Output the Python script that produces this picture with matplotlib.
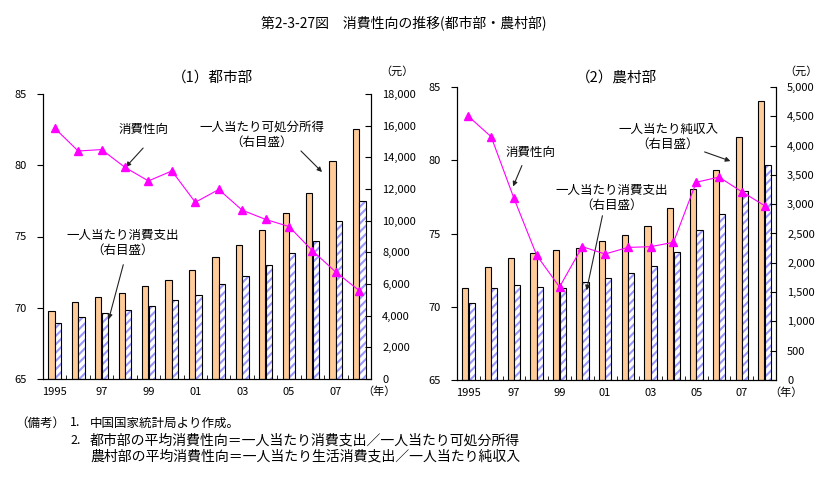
import numpy as np
import matplotlib
matplotlib.use('Agg')
import matplotlib.pyplot as plt
from matplotlib.ticker import FuncFormatter

plt.rcParams['font.family'] = ['Noto Sans CJK JP', 'DejaVu Sans']
plt.rcParams['hatch.linewidth'] = 1.5

# データ
years = list(range(1995, 2009))
year_ticks = [0, 2, 4, 6, 8, 10, 12]
year_labels = ['1995', '97', '99', '01', '03', '05', '07']

# 都市部：一人当たり可処分所得・消費支出（元）、消費性向（％）
urban_income = [4283, 4839, 5160, 5425, 5854, 6280, 6860, 7703, 8472, 9422, 10493, 11759, 13786, 15781]
urban_spend = [3538, 3919, 4186, 4332, 4616, 4998, 5309, 6030, 6511, 7182, 7943, 8697, 9997, 11243]
urban_apc = [82.6, 81.0, 81.1, 79.85, 78.9, 79.6, 77.4, 78.3, 76.85, 76.2, 75.7, 74.0, 72.5, 71.2]

# 農村部：一人当たり純収入・生活消費支出（元）、消費性向（％）
rural_income = [1578, 1926, 2090, 2162, 2210, 2253, 2366, 2476, 2622, 2936, 3255, 3587, 4140, 4761]
rural_spend = [1310, 1572, 1617, 1590, 1577, 1670, 1741, 1834, 1943, 2185, 2555, 2829, 3224, 3661]
rural_apc = [83.0, 81.6, 77.4, 73.5, 71.35, 74.1, 73.6, 74.05, 74.1, 74.4, 78.5, 78.85, 77.85, 76.9]

W, H = 827, 478
ORANGE = '#FFCC99'
HATCH_BLUE = '#9999FF'
MAGENTA = '#FF00FF'

fig = plt.figure(figsize=(W / 100, H / 100), dpi=100)


def px(x, y):
    """画像のピクセル座標 -> figure fraction"""
    return x / W, 1 - y / H


def draw_panel(box, income, spend, apc, rmax, rstep, nen_dx):
    x0, y0, x1, y1 = box
    rect = [x0 / W, 1 - y1 / H, (x1 - x0) / W, (y1 - y0) / H]
    ax = fig.add_axes(rect)
    axb = ax.twinx()
    ax.set_zorder(axb.get_zorder() + 1)
    ax.patch.set_visible(False)

    x = np.arange(len(years))
    w = 0.27
    axb.bar(x - 0.14, income, w, color=ORANGE, edgecolor='black', linewidth=0.8)
    axb.bar(x + 0.14, spend, w, color='white', edgecolor=HATCH_BLUE, hatch='////', linewidth=0)
    axb.bar(x + 0.14, spend, w, fill=False, edgecolor='black', linewidth=0.8)
    axb.set_ylim(0, rmax)
    axb.set_yticks(np.arange(0, rmax + 1, rstep))
    axb.yaxis.set_major_formatter(FuncFormatter(lambda v, p: f'{int(v):,}'))
    axb.tick_params(axis='y', direction='in', length=4, labelsize=8, pad=8)

    ax.plot(x, apc, color=MAGENTA, linewidth=0.8, marker='^', markersize=6,
            markerfacecolor=MAGENTA, markeredgecolor=MAGENTA)
    ax.set_ylim(65, 85)
    ax.set_yticks([65, 70, 75, 80, 85])
    ax.tick_params(axis='y', direction='out', length=4, labelsize=8, pad=8)
    ax.set_xlim(-0.5, len(years) - 0.5)
    ax.set_xticks(year_ticks)
    ax.set_xticklabels(year_labels)
    ax.set_xticks(np.arange(0.5, len(years) - 1, 1), minor=True)
    ax.tick_params(axis='x', which='major', length=0, labelsize=8, pad=6)
    ax.tick_params(axis='x', which='minor', direction='in', length=3)

    for a in (ax, axb):
        a.spines['top'].set_visible(False)
        for s in a.spines.values():
            s.set_linewidth(0.8)

    ax.annotate('（年）', xy=(1, 0), xycoords='axes fraction', xytext=(nen_dx, -13),
                textcoords='offset pixels', ha='center', va='center', fontsize=8)
    return ax


draw_panel((43, 94, 371, 379), urban_income, urban_spend, urban_apc, 18000, 2000, 8)
draw_panel((457, 87, 776, 380), rural_income, rural_spend, rural_apc, 5000, 500, 10)

# タイトル
fig.text(*px(404, 23), '第2-3-27図　消費性向の推移(都市部・農村部)', ha='center', va='center', fontsize=10)
fig.text(*px(213, 78), '（1）都市部', ha='center', va='center', fontsize=10.5)
fig.text(*px(617, 78), '（2）農村部', ha='center', va='center', fontsize=10.5)
fig.text(*px(397, 71), '（元）', ha='center', va='center', fontsize=8)
fig.text(*px(801, 71), '（元）', ha='center', va='center', fontsize=8)

# 注記と矢印
labels = [
    ((144, 129), '消費性向', (145, 146), (124, 169)),
    ((262, 135), '一人当たり可処分所得\n（右目盛）', (299, 149), (324, 174)),
    ((123, 243), '一人当たり消費支出\n（右目盛）', (124, 262), (108, 322)),
    ((531, 153), '消費性向', (523, 163), (512, 189)),
    ((668, 137), '一人当たり純収入\n（右目盛）', (702, 151), (733, 162)),
    ((612, 198), '一人当たり消費支出\n（右目盛）', (603, 213), (586, 293)),
]
for (tx, ty), txt, (ax0, ay0), (ax1, ay1) in labels:
    fig.text(*px(tx, ty), txt, ha='center', va='center', fontsize=9, linespacing=1.2)
    fig.add_artist(matplotlib.patches.FancyArrowPatch(
        px(ax0, ay0), px(ax1, ay1), transform=fig.transFigure,
        arrowstyle='-|>', mutation_scale=7, color='#222222', linewidth=0.8))

# 備考
fig.text(*px(15, 423), '（備考）', ha='left', va='center', fontsize=9)
fig.text(*px(70, 423), '1.', ha='left', va='center', fontsize=9)
fig.text(*px(90, 423), '中国国家統計局より作成。', ha='left', va='center', fontsize=9)
fig.text(*px(70, 440), '2.', ha='left', va='center', fontsize=9)
fig.text(*px(90, 440), '都市部の平均消費性向＝一人当たり消費支出／一人当たり可処分所得',
         ha='left', va='center', fontsize=10)
fig.text(*px(90, 457), '農村部の平均消費性向＝一人当たり生活消費支出／一人当たり純収入',
         ha='left', va='center', fontsize=10)

fig.savefig('out.png', dpi=100)
